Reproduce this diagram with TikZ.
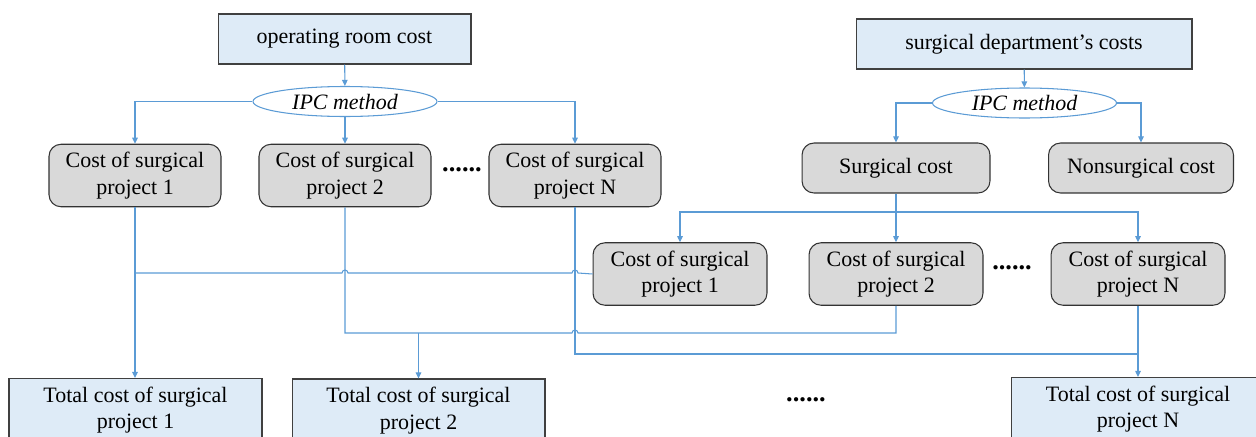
\documentclass[tikz,border=0pt]{standalone}
\usepackage{fontspec}
\setmainfont{Liberation Serif}
\usetikzlibrary{calc,arrows.meta,positioning,shapes.geometric}
\definecolor{boxblue}{RGB}{222,235,247}
\definecolor{boxgray}{RGB}{217,217,217}
\definecolor{lineblue}{RGB}{91,155,213}

\begin{document}
\begin{tikzpicture}[x=0.02cm,y=-0.02cm,
  every node/.style={font=\fontsize{12.5}{15}\selectfont,align=center,inner sep=0pt},
  bluebox/.style={draw=black!75,fill=boxblue,line width=0.6pt,minimum width=5.06cm},
  graybox/.style={draw=black!80,fill=boxgray,rounded corners=0.24cm,line width=0.6pt,
    minimum width=3.44cm,minimum height=1.25cm},
  ipc/.style={ellipse,draw=lineblue,fill=white,line width=0.6pt,
    minimum width=3.68cm,minimum height=0.6cm,font=\fontsize{12.5}{15}\selectfont\itshape},
  dots/.style={font=\fontsize{15}{15}\selectfont\bfseries},
  line/.style={draw=lineblue,line width=0.6pt},
  link/.style={line,-{Triangle[length=3.5pt,width=3.2pt]}}]
  \clip (0,0) rectangle (1256,436);
  \node[bluebox,minimum height=1cm](top1) at (344.5,39){operating room cost};
  \node[bluebox,minimum height=1cm,minimum width=6.72cm](top2) at (1024,44){surgical department's costs};
  \node[ipc](ipc1) at (345,101.5){IPC method};
  \node[ipc](ipc2) at (1024.5,103){IPC method};
  \node[graybox](c1) at (135,175.5){Cost of surgical\\project 1};
  \node[graybox](c2) at (345,175.5){Cost of surgical\\project 2};
  \node[graybox](c3) at (575,175.5){Cost of surgical\\project N};
  \node[dots](d1) at (462,170){......};
  \node[graybox,minimum width=3.76cm,minimum height=1cm](sc) at (896,168){Surgical cost};
  \node[graybox,minimum width=3.7cm,minimum height=1cm](ns) at (1141,168){Nonsurgical cost};
  \node[graybox,minimum width=3.48cm](r1) at (680,274){Cost of surgical\\project 1};
  \node[graybox,minimum width=3.48cm](r2) at (896,274){Cost of surgical\\project 2};
  \node[graybox,minimum width=3.48cm](r3) at (1138,274){Cost of surgical\\project N};
  \node[dots](d2) at (1012,268){......};
  \node[bluebox,minimum height=1.26cm](t1) at (135.5,410){Total cost of surgical\\project 1};
  \node[bluebox,minimum height=1.26cm](t2) at (418.5,410.5){Total cost of surgical\\project 2};
  \node[bluebox,minimum height=1.26cm,minimum width=5.08cm](t3) at (1138,409){Total cost of surgical\\project N};
  \node[dots](d3) at (806,400){......};
  \coordinate(bus) at (896,212);
  \coordinate(j2) at (418.5,333);
  \draw[link](top1)--(ipc1);
  \draw[link](ipc1.west)-|(c1.north);
  \draw[link](ipc1)--(c2);
  \draw[link](ipc1.east)-|(c3.north);
  \draw[link](top2)--(ipc2);
  \draw[link](ipc2.west)-|(sc.north);
  \draw[link](ipc2.east)-|(ns.north);
  \draw[link](sc)--(r2);
  \draw[link](bus)-|(r1.north);
  \draw[link](bus)-|(r3.north);
  \draw[link](c1.south)--(c1.south|-t1.north);
  \draw[line](r1.west)--(578,273) arc[start angle=0,end angle=180,radius=0.06cm]
    --(348,273) arc[start angle=0,end angle=180,radius=0.06cm]--(c1.south|-0,273);
  \draw[line](c2.south)--(345,333)--(572,333) arc[start angle=180,end angle=0,radius=0.06cm]
    --(r2.south|-j2)--(r2.south);
  \draw[link](j2)--(t2.north);
  \draw[line](c3.south)|-(r3.south|-0,354);
  \draw[link](r3.south)--(t3.north);
\end{tikzpicture}
\end{document}
